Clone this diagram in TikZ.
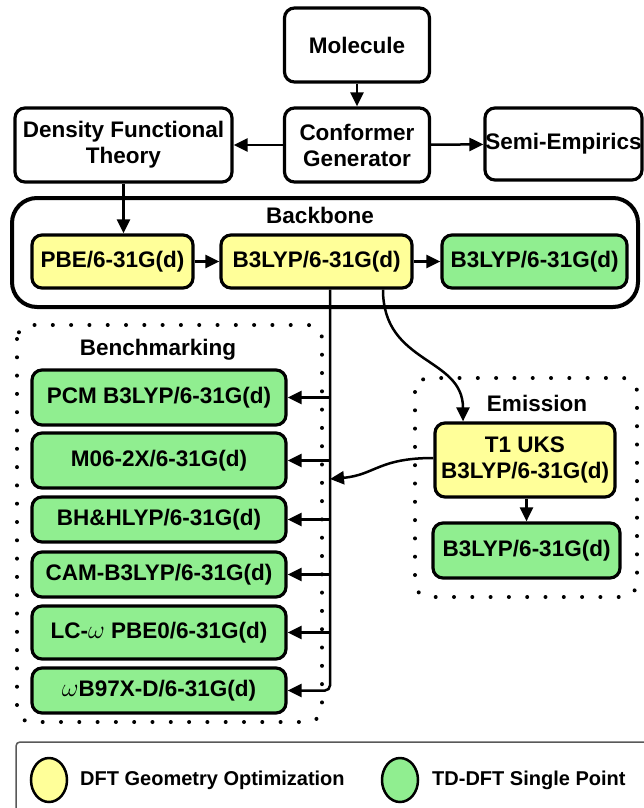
\documentclass[tikz,border=0pt]{standalone}
\usepackage{fontspec}
\setmainfont{Liberation Sans}
\usetikzlibrary{arrows.meta,calc,shapes.geometric}
\definecolor{optyellow}{RGB}{255,255,153}
\definecolor{spgreen}{RGB}{144,238,144}
\newcommand{\bigomega}{\scalebox{1.25}{$\omega$}}
\begin{document}
\begin{tikzpicture}[x=1pt,y=-1pt,
 box/.style={draw=black,line width=3.2pt,rounded corners=10pt,align=center,inner sep=0pt,font=\bfseries\fontsize{22.5}{26}\selectfont},
 ybox/.style={box,fill=optyellow},
 gbox/.style={box,fill=spgreen},
 bench/.style={gbox,minimum width=254pt},
 conn/.style={line width=2.5pt,-{Triangle[length=14pt,width=13pt]}},
 dotbox/.style={line width=4pt,line cap=round,dash pattern=on 0pt off 18.3pt,rounded corners=14pt},
 lab/.style={font=\bfseries\fontsize{22.5}{26}\selectfont,inner sep=0pt},
 legtext/.style={anchor=west,font=\bfseries\fontsize{20}{24}\selectfont,inner sep=0pt}]
\useasboundingbox (0,0) rectangle (643,808);
\fill[white] (0,0) rectangle (643,808);

% top row
\node[box,minimum width=145pt,minimum height=74pt] (mol) at (357,45) {Molecule};
\node[box,minimum width=145pt,minimum height=74pt] (conf) at (357,145) {Conformer\\Generator};
\node[box,minimum width=217pt,minimum height=74pt] (dft) at (123.5,145) {Density Functional\\Theory};
\node[box,minimum width=157pt,minimum height=72pt] (semi) at (563.5,144) {Semi-Empirics};

% backbone
\draw[line width=4pt,rounded corners=25pt] (12,198) rectangle (638,307);
\node[lab] (bbl) at (320,215) {Backbone};
\node[ybox,minimum width=161pt,minimum height=53pt] (pbe) at (112.5,261.5) {PBE/6-31G(d)};
\node[ybox,minimum width=191pt,minimum height=53pt] (b3y) at (316.5,261.5) {B3LYP/6-31G(d)};
\node[gbox,minimum width=185pt,minimum height=53pt] (b3g) at (534.5,261.5) {B3LYP/6-31G(d)};

% benchmarking
\draw[dotbox] (17,325) rectangle (322,722);
\node[lab] (bml) at (158,350) {Benchmarking};
\node[bench,minimum height=55pt] (pcm) at (159,397.5) {PCM B3LYP/6-31G(d)};
\node[bench,minimum height=55pt] (m06) at (159,460.5) {M06-2X/6-31G(d)};
\node[bench,minimum height=45pt] (bh) at (159,519.5) {BH\&HLYP/6-31G(d)};
\node[bench,minimum height=45pt] (cam) at (159,574.5) {CAM-B3LYP/6-31G(d)};
\node[bench,minimum height=53pt] (lc) at (159,632.5) {LC-\bigomega\ PBE0/6-31G(d)};
\node[bench,minimum height=45pt] (wb) at (159,690.5) {\bigomega B97X-D/6-31G(d)};

% emission
\draw[dotbox] (415,378) rectangle (637,597);
\node[lab] (eml) at (537,403) {Emission};
\node[ybox,minimum width=180pt,minimum height=74pt] (t1) at (525,460) {T1 UKS\\B3LYP/6-31G(d)};
\node[gbox,minimum width=187pt,minimum height=55pt] (eg) at (526.5,550.5) {B3LYP/6-31G(d)};

% connectors
\draw[conn] (mol) -- (conf);
\draw[conn] (conf) -- (dft);
\draw[conn] (conf) -- (semi);
\draw[conn] (dft.south) -- (dft.south |- pbe.north);
\draw[conn] (pbe) -- (b3y);
\draw[conn] (b3y) -- (b3g);

\coordinate (bus) at ([xshift=13.5pt]b3y.south);
\coordinate (emt) at (330,479);
\draw[conn,rounded corners=5pt] (bus) |- (wb.east);
\foreach \n in {pcm,m06,bh,cam,lc}{
  \draw[conn] (\n.east -| bus) -- (\n.east);
}
\draw[conn] ([xshift=66.5pt]b3y.south) .. controls +(0,75) and +(0,-65) .. ([xshift=-62pt]t1.north);
\draw[conn] ([yshift=2pt]t1.west) .. controls +(-55,0) and +(45,-4) .. (emt);
\draw[conn] (t1.south -| eg.north) -- (eg.north);

% legend
\draw[line width=1.5pt,draw=black!65,rounded corners=4pt] (16,815) -- (16,742) -- (660,742);
\node[draw=black,line width=2.5pt,fill=optyellow,ellipse,minimum width=36pt,minimum height=44pt,inner sep=0pt] (ly) at (49,780) {};
\node[legtext] (lt1) at (80,780) {DFT Geometry Optimization};
\node[draw=black,line width=2.5pt,fill=spgreen,ellipse,minimum width=36pt,minimum height=44pt,inner sep=0pt] (lg) at (400,780) {};
\node[legtext] (lt2) at (432,780) {TD-DFT Single Point};
\end{tikzpicture}
\end{document}
